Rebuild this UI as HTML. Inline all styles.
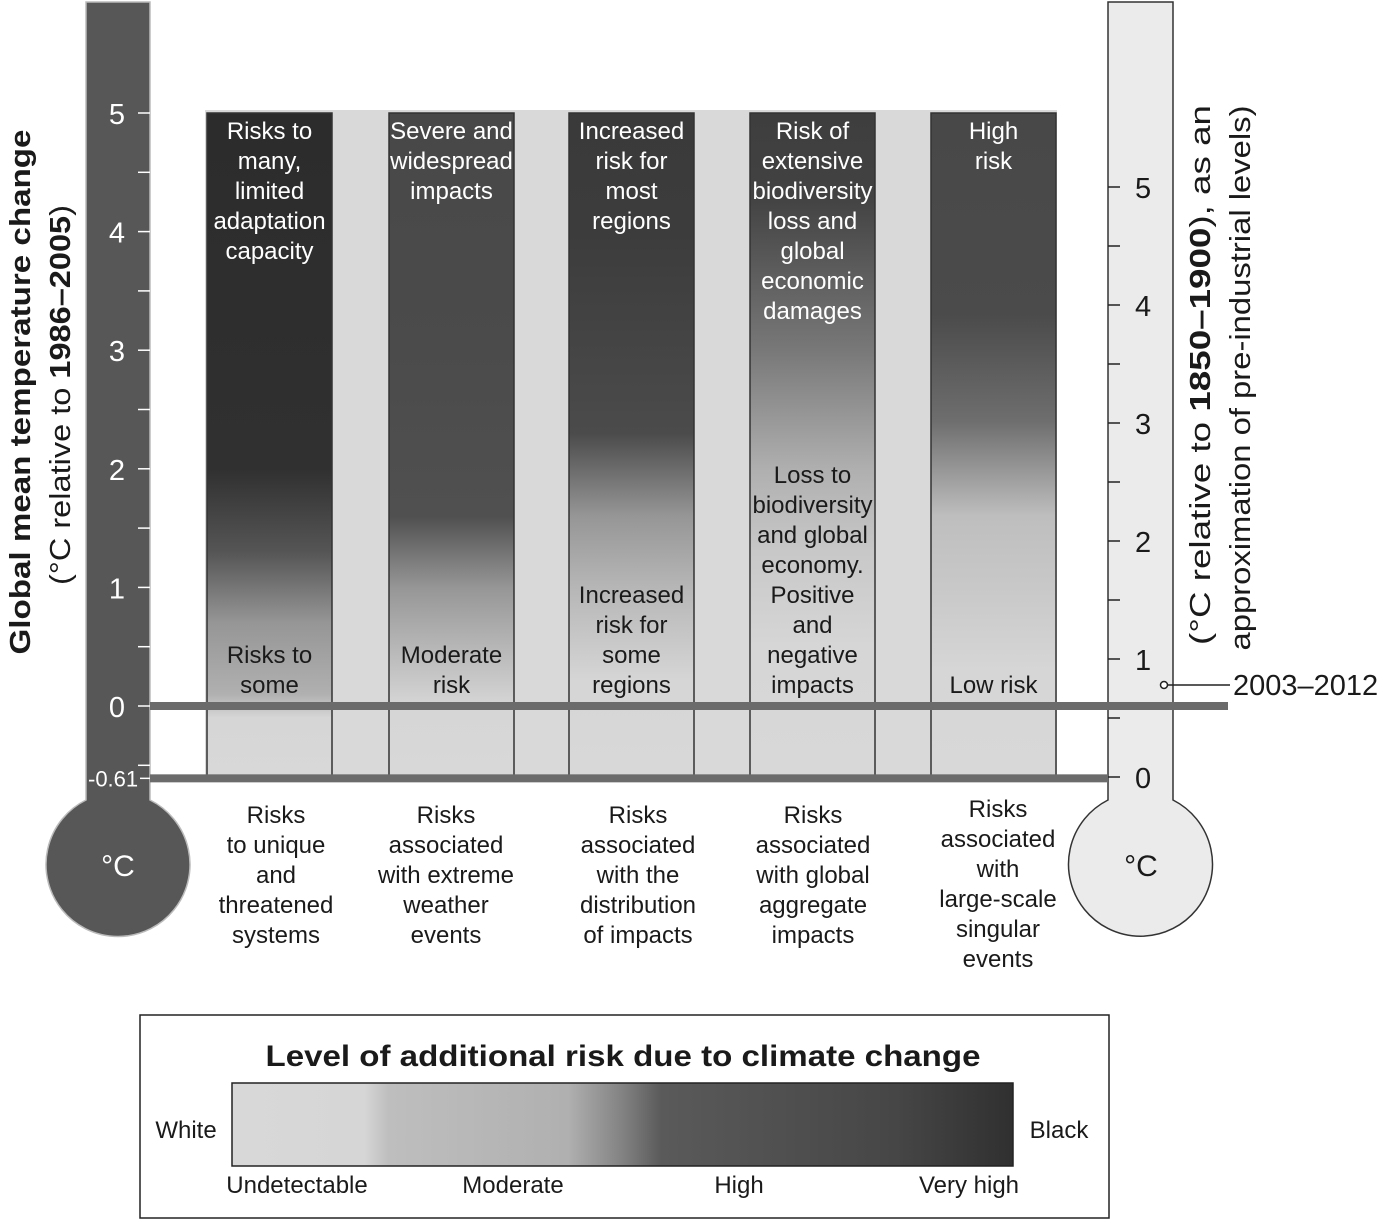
<!DOCTYPE html>
<html><head><meta charset="utf-8"><style>
body{margin:0;background:#fff;}
svg text{font-family:"Liberation Sans",Arial,sans-serif;fill:#1a1a1a;}
</style></head><body>
<svg id="chart" width="1397" height="1221" viewBox="0 0 1397 1221" xmlns="http://www.w3.org/2000/svg">
<defs id="defs"></defs>
<g id="g"></g>
</svg>
<script>
const leftTicks=[0,1,2,3,4,5];
const rightTicks=[0,1,2,3,4,5];
const colTitles=[["Risks to","many,","limited","adaptation","capacity"],["Severe and","widespread","impacts"],["Increased","risk for","most","regions"],["Risk of","extensive","biodiversity","loss and","global","economic","damages"],["High","risk"]];
const colLow=[["Risks to","some"],["Moderate","risk"],["Increased","risk for","some","regions"],["Loss to","biodiversity","and global","economy.","Positive","and","negative","impacts"],["Low risk"]];
const colLabels=[["Risks","to unique","and","threatened","systems"],["Risks","associated","with extreme","weather","events"],["Risks","associated","with the","distribution","of impacts"],["Risks","associated","with global","aggregate","impacts"],["Risks","associated","with","large-scale","singular","events"]];
// gradient stops per column: temperature (°C, left axis) and gray level
const stopTemps=[[-0.61,-0.1,0.1,0.7,1.3,2.0,5.0],[-0.61,0,0.5,1.0,1.6,3,5.0],[-0.61,0.2,1.0,1.6,2.3,4,5.0],[-0.61,0.5,1.3,2.0,3.0,4.3,5.0],[-0.61,0.3,1.0,1.6,2.4,3.3,5.0]];
const stopGray=[[216,214,176,150,85,48,44],[216,214,182,150,80,75,72],[216,214,182,150,75,60,58],[216,214,200,175,120,66,62],[216,214,200,190,110,75,72]];
const obsValue=0.78;

const NS="http://www.w3.org/2000/svg";
const g=document.getElementById('g');const defs=document.getElementById('defs');
function el(t,a,p){const e=document.createElementNS(NS,t);for(const k in a)e.setAttribute(k,a[k]);(p||g).appendChild(e);return e;}
const yL=v=>706-v*118.6;
const yR=v=>777-v*118;
const colX=[207,389,569,750,931],colW=125;

let bg=el('rect',{x:205,y:110,width:852,height:666,fill:'#d9d9d9'});



for(let i=0;i<5;i++){
  const lg=el('linearGradient',{id:'cg'+i,x1:0,y1:yL(-0.61),x2:0,y2:yL(5.0),gradientUnits:'userSpaceOnUse'},defs);
  for(let j=0;j<stopTemps[i].length;j++){
    const y=yL(stopTemps[i][j]);const off=(yL(-0.61)-y)/(yL(-0.61)-yL(5.0));
    const c=stopGray[i][j];el('stop',{offset:off,'stop-color':`rgb(${c},${c},${c})`},lg);
  }
  const r=el('rect',{x:colX[i],y:yL(5.0),width:colW,height:yL(-0.61)-yL(5.0)-2,fill:`url(#cg${i})`,stroke:'#333','stroke-width':1.5});
  
  
  const cx=colX[i]+colW/2;
  colTitles[i].forEach((s,k)=>{const t=el('text',{x:cx,y:139+k*30,'text-anchor':'middle','font-size':24,style:'fill:#fff'});t.textContent=s;
    });
  const n=colLow[i].length;
  colLow[i].forEach((s,k)=>{const t=el('text',{x:cx,y:693-(n-1-k)*30,'text-anchor':'middle','font-size':24});t.textContent=s;
    });
  const lx=[276,446,638,813,998][i];const ly0=i==4?817:823;
  colLabels[i].forEach((s,k)=>{const t=el('text',{x:lx,y:ly0+k*30,'text-anchor':'middle','font-size':24});t.textContent=s;
    });
}

let lt=el('path',{d:'M86,2 H150 V800 A72,72 0 1 1 86,800 Z',fill:'#575757',stroke:'#bbb','stroke-width':1.5});

let t=el('text',{x:118,y:876,'text-anchor':'middle','font-size':30,style:'fill:#fff'});t.textContent='°C';

for(let v=-0.5;v<=5.01;v+=0.5){el('line',{x1:138,x2:150,y1:yL(v),y2:yL(v),stroke:'#fff','stroke-width':1.5});}
leftTicks.forEach(v=>{const tx=el('text',{x:125,y:yL(v)+11,'text-anchor':'end','font-size':29,style:'fill:#fff'});tx.textContent=v;
  });
t=el('text',{x:88,y:yL(-0.61)+8,'font-size':22,style:'fill:#fff'});t.textContent='-0.61';

el('line',{x1:140,x2:150,y1:yL(-0.61),y2:yL(-0.61),stroke:'#fff','stroke-width':1.5});

let rt=el('path',{d:'M1108,2 H1173 V800 A72,72 0 1 1 1108,800 Z',fill:'#ebebeb',stroke:'#333','stroke-width':1.5});

t=el('text',{x:1141,y:876,'text-anchor':'middle','font-size':30});t.textContent='°C';

for(let v=0;v<=5.01;v+=0.5){el('line',{x1:1108,x2:1120,y1:yR(v),y2:yR(v),stroke:'#222','stroke-width':1.5});}
rightTicks.forEach(v=>{const tx=el('text',{x:1135,y:yR(v)+11,'font-size':29});tx.textContent=v;
  });

let h1=el('rect',{x:150,y:yL(0)-4,width:1078,height:8,fill:'#6b6b6b'});

let h2=el('rect',{x:150,y:yL(-0.61)-4,width:958,height:8,fill:'#6b6b6b'});


const oy=yR(obsValue);
el('line',{x1:1168,x2:1230,y1:oy,y2:oy,stroke:'#222','stroke-width':1.5});
let oc=el('circle',{cx:1164,cy:oy,r:3.5,fill:'#fff',stroke:'#222','stroke-width':1.5});

t=el('text',{x:1233,y:oy+10,'font-size':29});t.textContent='2003–2012';


t=el('text',{transform:'translate(30,392) rotate(-90)','text-anchor':'middle','font-size':29,'font-weight':'bold',textLength:525,lengthAdjust:'spacingAndGlyphs'});t.textContent='Global mean temperature change';

t=el('text',{transform:'translate(70,395) rotate(-90)','text-anchor':'middle','font-size':29,textLength:380,lengthAdjust:'spacingAndGlyphs'});
t.innerHTML='(°C relative to <tspan font-weight="bold">1986–2005</tspan>)';

t=el('text',{transform:'translate(1210,375) rotate(-90)','text-anchor':'middle','font-size':29,textLength:540,lengthAdjust:'spacingAndGlyphs'});
t.innerHTML='(°C relative to <tspan font-weight="bold">1850–1900</tspan>), as an';

t=el('text',{transform:'translate(1250,378) rotate(-90)','text-anchor':'middle','font-size':29,textLength:545,lengthAdjust:'spacingAndGlyphs'});t.textContent='approximation of pre-industrial levels)';


let lb=el('rect',{x:140,y:1015,width:969,height:203,fill:'#fff',stroke:'#222','stroke-width':1.5});

t=el('text',{x:623,y:1066,'text-anchor':'middle','font-size':30,'font-weight':'bold',textLength:715,lengthAdjust:'spacingAndGlyphs'});t.textContent='Level of additional risk due to climate change';

const lgg=el('linearGradient',{id:'lg',x1:0,y1:0,x2:1,y2:0},defs);
[[0,216],[0.17,214],[0.2,190],[0.43,176],[0.5,130],[0.55,90],[0.85,70],[1,48]].forEach(s=>el('stop',{offset:s[0],'stop-color':`rgb(${s[1]},${s[1]},${s[1]})`},lgg));
let bar=el('rect',{x:232,y:1083,width:781,height:83,fill:'url(#lg)',stroke:'#222','stroke-width':1.5});

[['White',186,1138,'middle'],['Black',1059,1138,'middle'],['Undetectable',297,1193,'middle'],['Moderate',513,1193,'middle'],['High',739,1193,'middle'],['Very high',969,1193,'middle']].forEach(a=>{
  const tx=el('text',{x:a[1],y:a[2],'text-anchor':a[3],'font-size':24});tx.textContent=a[0];
  });
</script>
</body></html>
